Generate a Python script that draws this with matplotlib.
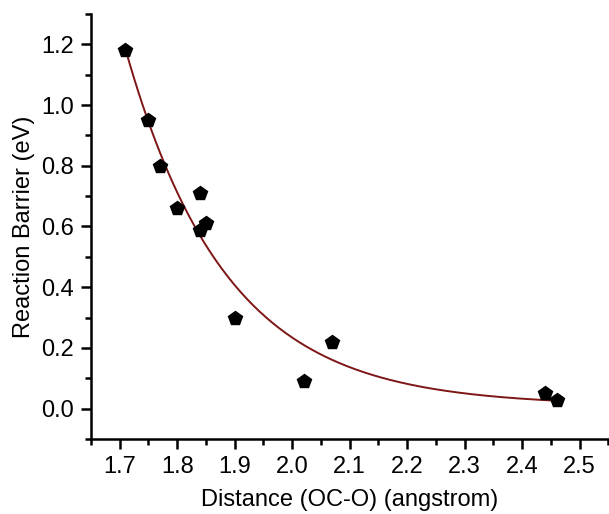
import numpy as np
import matplotlib.pyplot as plt
from matplotlib.ticker import MultipleLocator

plt.rcParams['font.family'] = ['Liberation Sans', 'DejaVu Sans']

# data
distance = [1.71, 1.75, 1.77, 1.80, 1.84, 1.84, 1.85, 1.90, 2.02, 2.07, 2.44, 2.46]
barrier = [1.18, 0.95, 0.80, 0.66, 0.71, 0.59, 0.61, 0.30, 0.09, 0.22, 0.05, 0.03]

x = np.array(distance)
y = np.array(barrier)

# exponential decay fit y = y0 + A*exp(-k*(x - x[0])), grid search on k
best = None
for k in np.linspace(1, 15, 1401):
    M = np.column_stack([np.ones_like(x), np.exp(-k * (x - x[0]))])
    coef, res, _, _ = np.linalg.lstsq(M, y, rcond=None)
    err = np.sum((M @ coef - y) ** 2)
    if best is None or err < best[0]:
        best = (err, k, coef)
_, k_fit, (y0_fit, a_fit) = best
xs = np.linspace(x.min(), x.max(), 200)
ys = y0_fit + a_fit * np.exp(-k_fit * (xs - x[0]))

fig = plt.figure(figsize=(6.09, 5.14), dpi=100)
ax = fig.add_axes([91 / 609, 1 - 439 / 514, 518 / 609, 425 / 514])

ax.plot(xs, ys, color='#7e1616', lw=1.4, zorder=2)
ax.plot(x, y, 'p', color='black', ms=10, zorder=3)

ax.set_xlim(1.65, 2.551)
ax.set_ylim(-0.1, 1.3)
ax.xaxis.set_minor_locator(MultipleLocator(0.05))
ax.yaxis.set_minor_locator(MultipleLocator(0.1))
ax.set_yticks(np.arange(0, 1.21, 0.2))
ax.set_xticks(np.arange(1.7, 2.51, 0.1))

for s in ['top', 'right']:
    ax.spines[s].set_visible(False)
for s in ['left', 'bottom']:
    ax.spines[s].set_linewidth(1.8)

ax.tick_params(which='major', direction='out', length=7, width=1.8, labelsize=17, pad=5)
ax.tick_params(which='minor', direction='out', length=4, width=1.8)

ax.set_xlabel('Distance (OC-O) (angstrom)', fontsize=17, labelpad=8)
ax.set_ylabel('Reaction Barrier (eV)', fontsize=17, labelpad=5)

fig.savefig('out.png', dpi=100)
